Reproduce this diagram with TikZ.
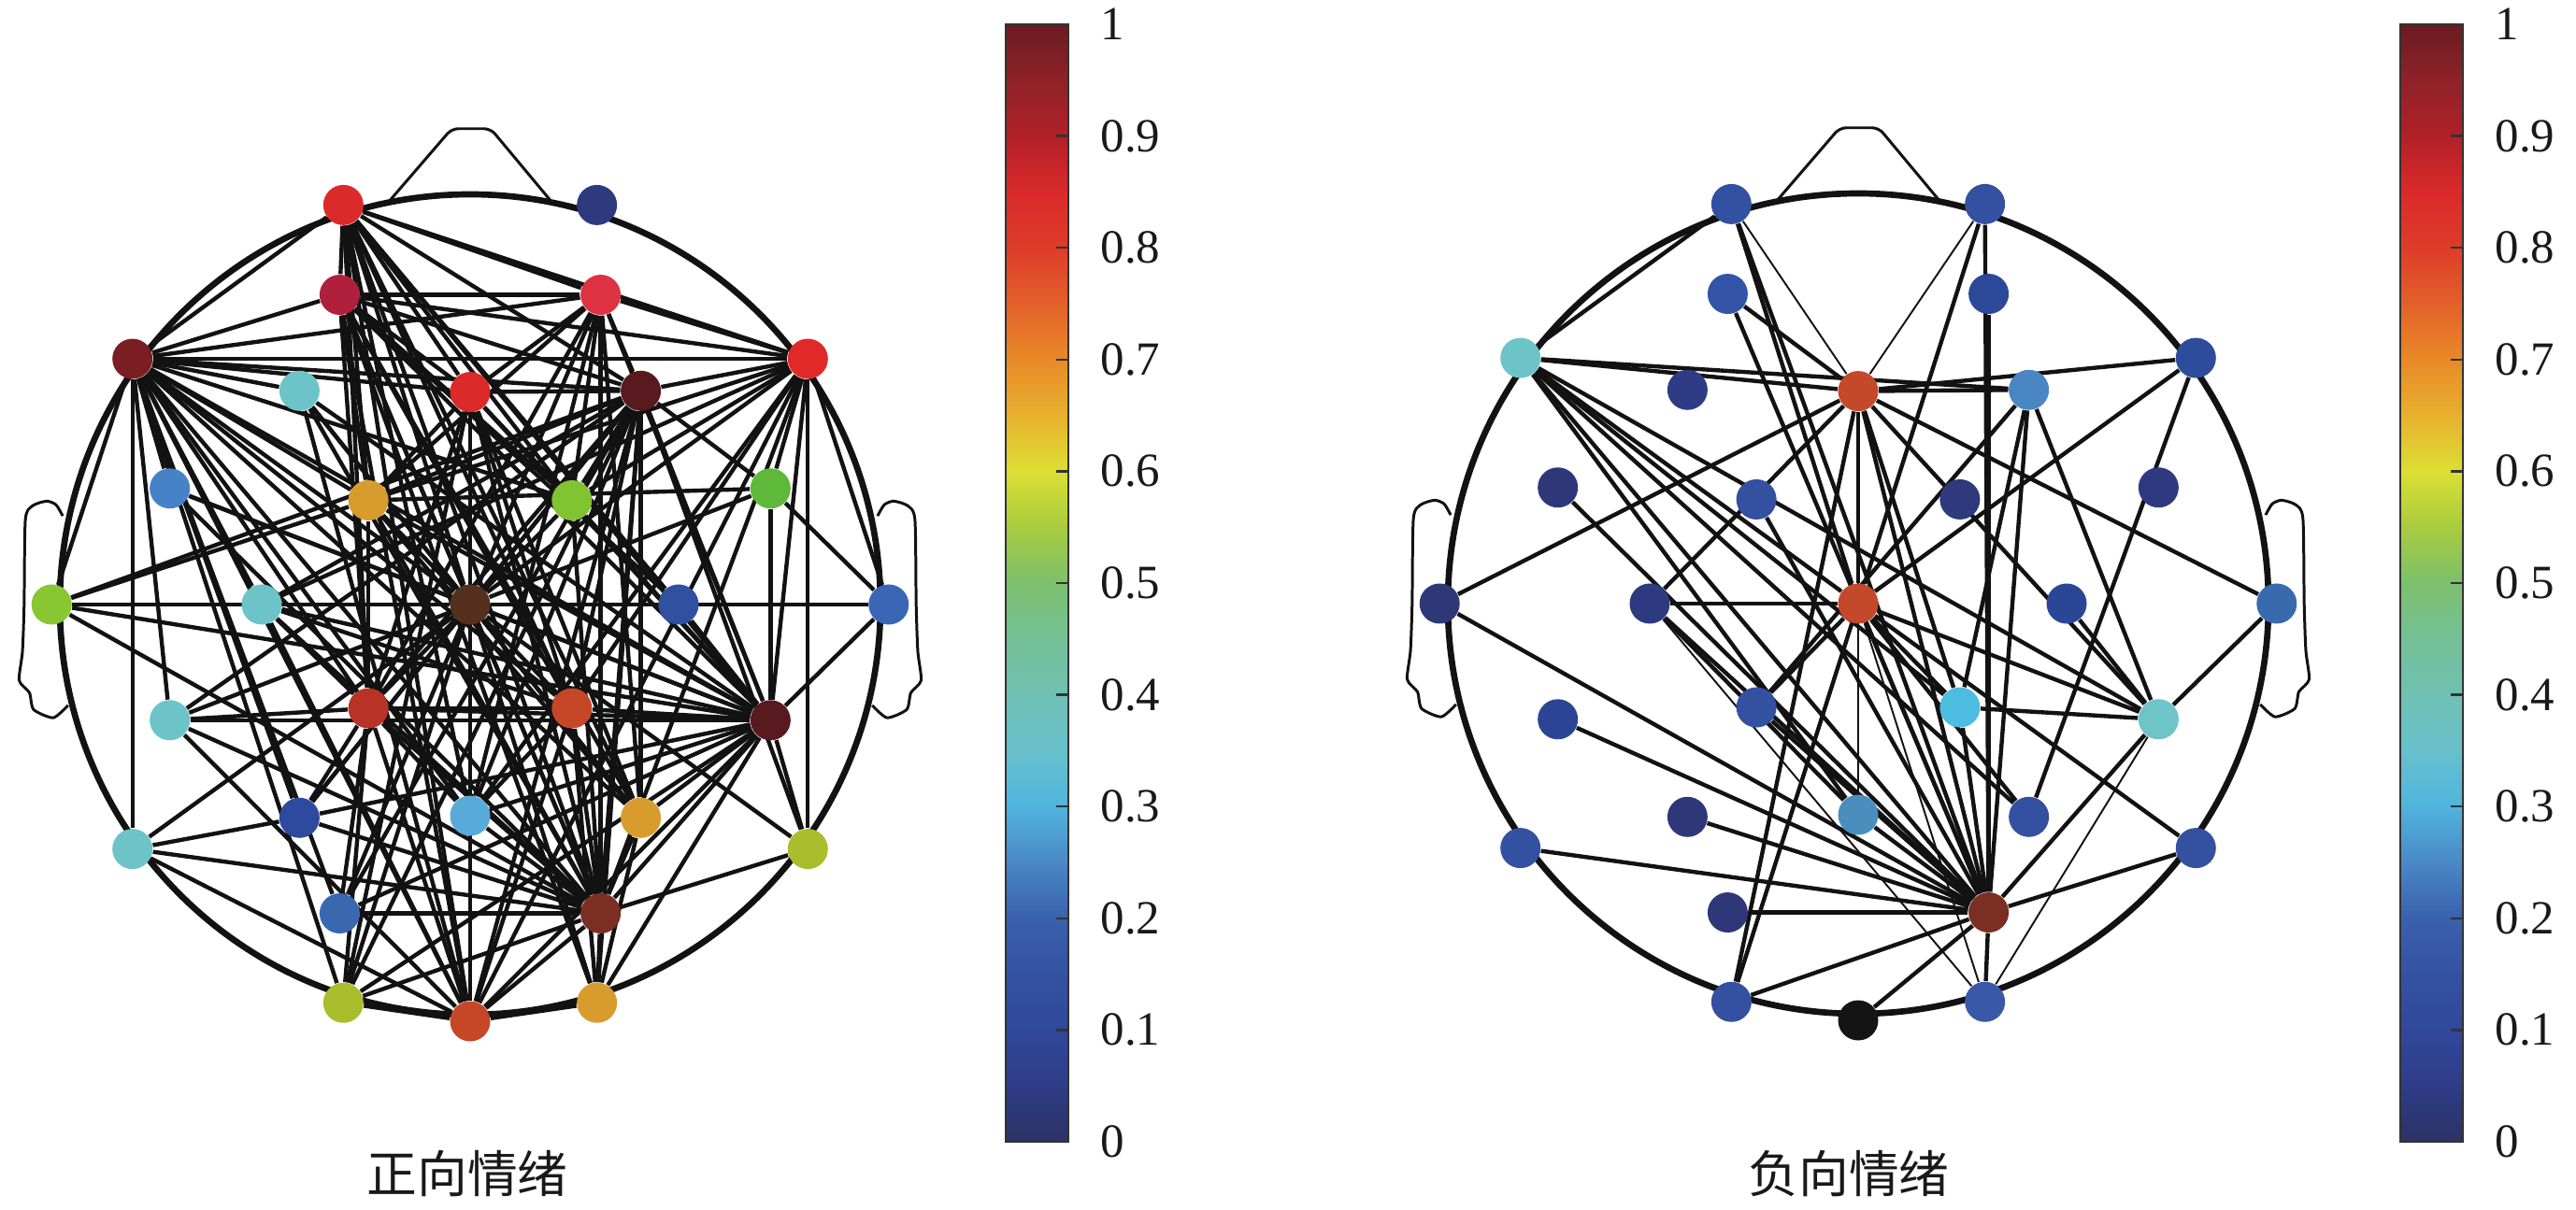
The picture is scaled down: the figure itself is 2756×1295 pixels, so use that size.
\documentclass[tikz,border=0pt]{standalone}
\usepackage{fontspec}
\setmainfont{Liberation Serif}
\newfontfamily\cjk{Noto Sans CJK SC}
\pgfdeclarelayer{edges}
\pgfsetlayers{edges,main}
% colormap stops
\definecolor{cm0}{HTML}{2C3262}\definecolor{cm1}{HTML}{2E3C88}\definecolor{cm2}{HTML}{30489A}
\definecolor{cm3}{HTML}{3452A2}\definecolor{cm4}{HTML}{3A60AC}\definecolor{cm5}{HTML}{4A88C6}
\definecolor{cm6}{HTML}{50B4DE}\definecolor{cm7}{HTML}{68C0CC}\definecolor{cm8}{HTML}{70C0B4}
\definecolor{cm9}{HTML}{74C096}\definecolor{cm10}{HTML}{7CC06E}\definecolor{cm11}{HTML}{A8CC3E}
\definecolor{cm12}{HTML}{DCDF34}\definecolor{cm13}{HTML}{E8B02E}\definecolor{cm14}{HTML}{E88A28}
\definecolor{cm15}{HTML}{E3602A}\definecolor{cm16}{HTML}{DD3C2A}\definecolor{cm17}{HTML}{DA2A2A}
\definecolor{cm18}{HTML}{B22028}\definecolor{cm19}{HTML}{8E2228}\definecolor{cm20}{HTML}{6B1B22}
% left head node colours
\definecolor{LFP1}{HTML}{DC2A2A}\definecolor{LFP2}{HTML}{2E3A7E}\definecolor{LAF3}{HTML}{B01F3C}
\definecolor{LAF4}{HTML}{DC3242}\definecolor{LF7}{HTML}{7A1E24}\definecolor{LF3}{HTML}{6CC4C8}
\definecolor{LFz}{HTML}{DC2A2A}\definecolor{LF4}{HTML}{581A1E}\definecolor{LF8}{HTML}{E02A2A}
\definecolor{LFC5}{HTML}{4682C8}\definecolor{LFC1}{HTML}{D89C2E}\definecolor{LFC2}{HTML}{80C432}
\definecolor{LFC6}{HTML}{5EB83A}\definecolor{LT7}{HTML}{88C632}\definecolor{LC3}{HTML}{6CC4C8}
\definecolor{LCz}{HTML}{55301E}\definecolor{LC4}{HTML}{3050A0}\definecolor{LT8}{HTML}{3A66B6}
\definecolor{LCP5}{HTML}{6CC4C8}\definecolor{LCP1}{HTML}{B83226}\definecolor{LCP2}{HTML}{C64628}
\definecolor{LCP6}{HTML}{581A1E}\definecolor{LP7}{HTML}{6CC4C8}\definecolor{LP3}{HTML}{2E4A9E}
\definecolor{LPz}{HTML}{58AAD8}\definecolor{LP4}{HTML}{D89C2E}\definecolor{LP8}{HTML}{A8BE2C}
\definecolor{LPO3}{HTML}{3A68B0}\definecolor{LPO4}{HTML}{7A2E24}\definecolor{LO1}{HTML}{A8BE2C}
\definecolor{LOz}{HTML}{C64628}\definecolor{LO2}{HTML}{D89C2E}
% right head node colours
\definecolor{RFP1}{HTML}{3450A0}\definecolor{RFP2}{HTML}{3450A0}\definecolor{RAF3}{HTML}{3454A8}
\definecolor{RAF4}{HTML}{2C4898}\definecolor{RF7}{HTML}{6CC4C8}\definecolor{RF3}{HTML}{2E3C86}
\definecolor{RFz}{HTML}{C4482A}\definecolor{RF4}{HTML}{4A86C4}\definecolor{RF8}{HTML}{2E4C9C}
\definecolor{RFC5}{HTML}{2E3878}\definecolor{RFC1}{HTML}{3450A0}\definecolor{RFC2}{HTML}{2E3A7C}
\definecolor{RFC6}{HTML}{2E3A80}\definecolor{RT7}{HTML}{2E3878}\definecolor{RC3}{HTML}{2E3A80}
\definecolor{RCz}{HTML}{C4482A}\definecolor{RC4}{HTML}{2C4696}\definecolor{RT8}{HTML}{3A6AAE}
\definecolor{RCP5}{HTML}{2C4496}\definecolor{RCP1}{HTML}{3450A0}\definecolor{RCP2}{HTML}{4CBCE0}
\definecolor{RCP6}{HTML}{6EC4C6}\definecolor{RP7}{HTML}{3450A0}\definecolor{RP3}{HTML}{2E3878}
\definecolor{RPz}{HTML}{4A8EBE}\definecolor{RP4}{HTML}{3450A0}\definecolor{RP8}{HTML}{3450A0}
\definecolor{RPO3}{HTML}{2E3878}\definecolor{RPO4}{HTML}{7A2E24}\definecolor{RO1}{HTML}{3450A0}
\definecolor{ROz}{HTML}{141414}\definecolor{RO2}{HTML}{3A58A8}
\def\elecpos{FP1/-0.309/0.974,FP2/0.309/0.974,AF3/-0.318/0.755,AF4/0.318/0.755,F7/-0.823/0.599,F3/-0.416/0.521,Fz/0/0.518,F4/0.416/0.521,F8/0.823/0.599,FC5/-0.732/0.283,FC1/-0.248/0.254,FC2/0.248/0.254,FC6/0.732/0.283,T7/-1.02/0,C3/-0.508/0,Cz/0/0,C4/0.508/0,T8/1.02/0,CP5/-0.732/-0.282,CP1/-0.248/-0.253,CP2/0.248/-0.253,CP6/0.732/-0.282,P7/-0.823/-0.596,P3/-0.416/-0.52,Pz/0/-0.515,P4/0.416/-0.52,P8/0.823/-0.596,PO3/-0.318/-0.753,PO4/0.318/-0.753,O1/-0.309/-0.971,Oz/0/-1.016,O2/0.309/-0.971}
\newcommand\headoutline{%
  \draw[headline] (0,0) circle[radius=43.9mm];
  \draw[earline, rounded corners=2pt] (-0.2,0.98) -- (-0.045,1.16) -- (0.05,1.16) -- (0.2,0.98);
  \draw[earline] plot[smooth, tension=0.4] coordinates {(-0.993,0.216) (-1.009,0.243) (-1.032,0.252) (-1.066,0.241) (-1.084,0.207) (-1.087,0.0) (-1.091,-0.114) (-1.099,-0.185) (-1.074,-0.215) (-1.064,-0.256) (-1.016,-0.276) (-0.98,-0.246)};
  \draw[earline] plot[smooth, tension=0.4] coordinates {(0.993,0.216) (1.009,0.243) (1.032,0.252) (1.066,0.241) (1.084,0.207) (1.087,0.0) (1.091,-0.114) (1.099,-0.185) (1.074,-0.215) (1.064,-0.256) (1.016,-0.276) (0.98,-0.246)};
}
\newcommand\mycbar[2]{%
  \foreach \i [evaluate=\i as \j using int(\i+1)] in {0,...,19}{
    \shade[bottom color=cm\i, top color=cm\j] ({#1},{73+59.8*\i-0.4}) rectangle ({#1+67},{73+59.8*(\i+1)+0.4});
  }
  \draw[cbframe] ({#1},73) rectangle ({#1+67},1269);
  \foreach \v in {1,...,9} \draw[cbframe] ({#1+67},{73+119.6*\v}) -- ++(-13,0);
  \foreach \v/\t in {0/0,1/0.1,2/0.2,3/0.3,4/0.4,5/0.5,6/0.6,7/0.7,8/0.8,9/0.9,10/1}
    \node[cblabel] (#2lab\v) at ({#1+101},{73+119.6*\v}) {\t};
}
\begin{document}
\begin{tikzpicture}[x=0.1mm,y=0.1mm,
  el/.style={circle, minimum size=4.3mm, inner sep=0pt, draw=none},
  edge/.style={line width=1.25pt, black!93},
  thinedge/.style={line width=0.55pt, black!93},
  headline/.style={line width=1.9pt, black!93},
  earline/.style={line width=0.85pt, black!93, line join=round},
  cbframe/.style={draw=black!80, line width=0.7pt},
  cblabel/.style={anchor=west, inner sep=0pt, text=black!90, font=\fontsize{14.5}{16}\selectfont},
  capstyle/.style={font=\cjk\fontsize{15.3}{18}\selectfont, inner sep=0pt, text=black!90}]
\useasboundingbox (0,0) rectangle (2756,1295);

% ---------------- left head ----------------
\begin{scope}[shift={(503,648)}, x=43.9mm, y=43.9mm]
  \headoutline
  \foreach \n/\x/\y in \elecpos \node[el, fill=L\n] (L\n) at (\x,\y) {};
  \begin{pgfonlayer}{edges}
  \foreach \a/\b in {F7/FP1,F7/AF3,F7/AF4,F7/F3,F7/Fz,F7/F4,F7/F8,F7/FC5,F7/FC1,F7/FC2,F7/T7,F7/C3,F7/Cz,F7/CP5,F7/CP1,F7/CP2,F7/CP6,F7/P7,F7/P3,F7/Pz,F7/P4,F7/PO3,F7/PO4,F7/O1,F7/Oz,
    FP1/AF3,FP1/AF4,FP1/F8,FP1/F4,FP1/Fz,FP1/FC1,FP1/FC2,FP1/Cz,FP1/CP1,FP1/CP2,FP1/CP6,FP1/Pz,FP1/P4,FP1/PO4,FP1/Oz,FP1/C4,
    AF3/AF4,AF3/Fz,AF3/F8,AF3/F4,AF3/FC1,AF3/FC2,AF3/Cz,AF3/CP1,AF3/CP2,AF3/CP6,AF3/P4,AF3/PO4,AF3/Oz,AF3/O2,AF3/C4,
    AF4/Fz,AF4/F4,AF4/F8,AF4/FC1,AF4/Cz,AF4/CP1,AF4/CP6,AF4/PO4,AF4/Pz,AF4/FC2,AF4/P4,
    Fz/F4,Fz/FC1,Fz/FC2,Fz/Cz,Fz/CP1,Fz/CP2,Fz/CP6,Fz/Pz,Fz/PO4,Fz/Oz,Fz/O1,Fz/P4,
    F4/F8,F4/FC1,F4/FC2,F4/FC6,F4/T7,F4/C3,F4/Cz,F4/CP5,F4/CP1,F4/CP2,F4/CP6,F4/P3,F4/Pz,F4/P4,F4/P8,F4/PO3,F4/PO4,F4/O1,F4/Oz,F4/O2,
    F8/FC6,F8/FC2,F8/FC1,F8/Cz,F8/T8,F8/CP6,F8/CP2,F8/P8,F8/PO4,F8/Oz,F8/C3,F8/Pz,
    FC1/Cz,FC1/CP1,FC1/CP6,FC1/PO4,FC1/P4,FC1/T7,FC1/FC6,
    Cz/F3,Cz/FC5,Cz/FC2,Cz/FC6,Cz/T7,Cz/C3,Cz/T8,Cz/CP5,Cz/CP1,Cz/CP2,Cz/CP6,Cz/P7,Cz/P3,Cz/P4,Cz/P8,Cz/PO3,Cz/PO4,Cz/O1,Cz/Oz,Cz/O2,Cz/C4,Cz/Pz,
    CP6/F3,CP6/FC5,CP6/FC2,CP6/FC6,CP6/C3,CP6/C4,CP6/T8,CP6/CP5,CP6/CP1,CP6/CP2,CP6/P3,CP6/Pz,CP6/P4,CP6/P8,CP6/PO3,CP6/PO4,CP6/O1,CP6/Oz,CP6/O2,CP6/T7,
    PO4/F3,PO4/FC5,PO4/FC2,PO4/T7,PO4/C3,PO4/CP5,PO4/CP1,PO4/CP2,PO4/P7,PO4/P3,PO4/Pz,PO4/P4,PO4/P8,PO4/PO3,PO4/O1,PO4/Oz,PO4/O2,
    CP1/C3,CP1/CP5,CP1/CP2,CP1/P3,CP1/Pz,CP1/PO3,CP1/Oz,CP1/O1,
    CP2/Pz,CP2/Oz,CP2/O2,CP2/C3,
    Oz/C3,Oz/P7,Oz/CP5,Oz/O1,Oz/O2,
    O2/P4,T7/C3,FC6/T8,C4/T8,P7/P3,F3/Oz,F3/P4}
    \draw[edge] (L\a) -- (L\b);
  \end{pgfonlayer}
\end{scope}

% ---------------- right head ----------------
\begin{scope}[shift={(1988,649)}, x=43.9mm, y=43.9mm]
  \headoutline
  \foreach \n/\x/\y in \elecpos \node[el, fill=R\n] (R\n) at (\x,\y) {};
  \begin{pgfonlayer}{edges}
  \foreach \a/\b in {FP1/F7,FP1/Cz,FP1/PO4,FP2/Cz,FP2/PO4,AF4/PO4,AF3/Fz,AF3/PO4,
    F7/Fz,F7/F4,F7/CP6,F7/Cz,F7/CP2,F7/PO4,F7/Pz,F7/P4,
    Fz/F4,F8/Fz,F8/Cz,F8/P4,Fz/T7,Fz/C3,Fz/Cz,Fz/T8,Fz/CP6,Fz/O1,Fz/PO4,Fz/CP2,
    F4/PO4,F4/CP2,F4/CP6,F4/CP1,FC5/PO4,FC1/PO4,T7/PO4,C3/Cz,C3/PO4,C3/Pz,
    Cz/CP1,Cz/CP2,Cz/PO4,Cz/P8,Cz/O1,Cz/P4,Cz/CP6,CP1/PO4,CP2/CP6,CP2/PO4,C4/CP6,
    CP5/PO4,P3/PO4,P7/PO4,PO3/PO4,O1/PO4,Oz/PO4,O2/PO4,P8/PO4,CP6/PO4,CP6/T8,Pz/PO4}
    \draw[edge] (R\a) -- (R\b);
  \foreach \a/\b in {FP1/Fz,FP2/Fz,Fz/Pz,Cz/O2,CP6/O2,O2/C3}
    \draw[thinedge] (R\a) -- (R\b);
  \end{pgfonlayer}
\end{scope}

% ---------------- colour bars ----------------
\mycbar{1076}{L}
\mycbar{2568}{R}

% ---------------- captions ----------------
\node[capstyle] (capL) at (500,39) {正向情绪};
\node[capstyle] (capR) at (1978,39) {负向情绪};
\end{tikzpicture}
\end{document}
